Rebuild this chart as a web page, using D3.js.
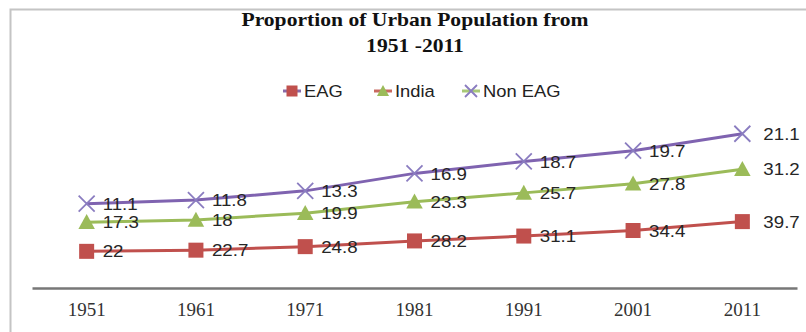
<!DOCTYPE html>
<html><head><meta charset="utf-8">
<script src="https://cdn.jsdelivr.net/npm/d3@7"></script>
<style>
  body { margin: 0; background: #fff; }
  svg { display: block; }
</style>
</head><body><div id="chart"></div>
<script>
// Urban population shares, stacked series (EAG at the bottom)
const years = ["1951", "1961", "1971", "1981", "1991", "2001", "2011"];
const eag = [22, 22.7, 24.8, 28.2, 31.1, 34.4, 39.7];
const india = [17.3, 18, 19.9, 23.3, 25.7, 27.8, 31.2];
const nonEag = [11.1, 11.8, 13.3, 16.9, 18.7, 19.7, 21.1];
const seriesNames = ["EAG", "India", "Non EAG"];
const titleLines = ["Proportion of Urban Population from", "1951 -2011"];
const yDomain = [0, 100];

const W = 806, H = 332;
const colors = { "EAG": "#c0504d", "India": "#9bbb59", "Non EAG": "#7f63b0" };
const xMarkColor = "#8a7cc0";
// legend keys draw their line in the neighbouring series colour
const legendLine = { "EAG": "#8a6aa8", "India": "#c86a60", "Non EAG": "#a8c878" };

const rows = years.map((yr, i) => ({ year: yr, "EAG": eag[i], "India": india[i], "Non EAG": nonEag[i] }));
const stacked = d3.stack().keys(seriesNames)(rows);

const svg = d3.select("#chart").append("svg").attr("width", W).attr("height", H);

// outer frame (top and left edges)
svg.append("path")
  .attr("d", `M10.5,${H}V9.5H${W}`)
  .attr("fill", "none").attr("stroke", "#c4c4c4").attr("stroke-width", 2);

const x = d3.scaleBand().domain(years).range([32, 797]);
const y = d3.scaleLinear().domain(yDomain).range([288.3, 120.3]);
const cx = d => x(d) + x.bandwidth() / 2;

// title
svg.append("g").selectAll("text").data(titleLines).join("text")
  .attr("transform", (d, i) => `translate(415,${26 + i * 26}) scale(1.2,1)`)
  .attr("text-anchor", "middle")
  .attr("font-family", "'Liberation Serif', 'Times New Roman', serif")
  .attr("font-weight", "bold").attr("font-size", 18).attr("fill", "#111")
  .text(d => d);

// x axis
const axis = svg.append("g").attr("transform", "translate(0,288)")
  .call(d3.axisBottom(x).tickSizeInner(0).tickSizeOuter(0).tickPadding(14.5));
axis.select(".domain").attr("stroke", "#777").attr("stroke-width", 2.5);
axis.selectAll(".tick text")
  .attr("font-family", "'Liberation Serif', 'Times New Roman', serif")
  .attr("font-size", 19).attr("fill", "#333");

function marker(sel, name, size) {
  const c = colors[name];
  if (name === "EAG") {
    sel.append("rect").attr("x", -size / 2).attr("y", -size / 2)
      .attr("width", size).attr("height", size).attr("fill", c);
  } else if (name === "India") {
    const h = size;
    sel.append("path")
      .attr("d", `M0,${-h * 0.55}L${h * 0.55},${h * 0.45}L${-h * 0.55},${h * 0.45}Z`)
      .attr("fill", c);
  } else {
    const s = size / 2;
    sel.append("path")
      .attr("d", `M${-s},${-s}L${s},${s}M${-s},${s}L${s},${-s}`)
      .attr("stroke", xMarkColor).attr("stroke-width", 1.8).attr("fill", "none");
  }
}

const line = d3.line().x(d => cx(d.data.year)).y(d => y(d[1]));

const layer = svg.append("g").selectAll("g").data(stacked).join("g");
layer.append("path")
  .attr("d", d => line(d))
  .attr("fill", "none")
  .attr("stroke", d => colors[d.key])
  .attr("stroke-width", 3);
layer.each(function (s) {
  const g = d3.select(this);
  s.forEach(p => {
    const m = g.append("g").attr("transform", `translate(${cx(p.data.year)},${y(p[1])})`);
    marker(m, s.key, s.key === "Non EAG" ? 16 : 15);
  });
});

// value labels beside each point
layer.each(function (s) {
  d3.select(this).selectAll("text.val").data(s).join("text")
    .attr("class", "val")
    .attr("transform", (p, i) => `translate(${cx(p.data.year) + (i === s.length - 1 ? 21 : 16)},${y(p[1])}) scale(1.1,1)`)
    .attr("dy", "0.36em")
    .attr("font-family", "'Liberation Sans', Arial, sans-serif")
    .attr("font-size", 17).attr("fill", "#262626")
    .text(p => p.data[s.key]);
});

// legend
const legendX = { "EAG": 292, "India": 383, "Non EAG": 471 };
const lg = svg.append("g").selectAll("g").data(seriesNames).join("g")
  .attr("transform", d => `translate(${legendX[d]},91)`);
lg.append("line").attr("x1", -9).attr("x2", 9)
  .attr("stroke", d => legendLine[d]).attr("stroke-width", 3);
lg.each(function (d) { marker(d3.select(this), d, d === "Non EAG" ? 12 : 11); });
lg.append("text")
  .attr("transform", "translate(12,0) scale(1.08,1)")
  .attr("dy", "0.36em")
  .attr("font-family", "'Liberation Sans', Arial, sans-serif")
  .attr("font-size", 17).attr("fill", "#222")
  .text(d => d);
</script>
</body></html>
